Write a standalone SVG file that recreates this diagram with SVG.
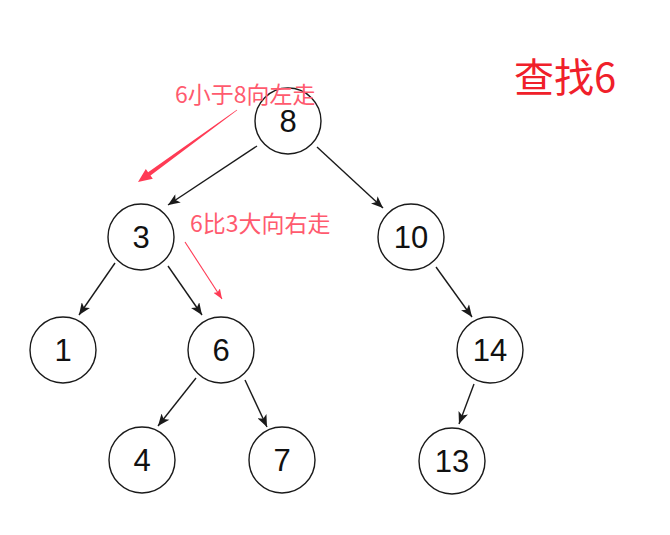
<svg xmlns="http://www.w3.org/2000/svg" width="670" height="535" viewBox="0 0 670 535">
<defs>
<style>
.node circle{fill:#fff;stroke:#1a1a1a;stroke-width:1.4}
.node text{font-family:"Liberation Sans",Arial,sans-serif;font-size:31px;fill:#111;text-anchor:middle}
.edge{stroke:#1a1a1a;stroke-width:1.4;fill:none;marker-end:url(#arr)}
.note{font-family:"Noto Sans CJK SC","Liberation Sans",sans-serif;font-size:23px;fill:#ff5a6e}
</style>
<marker id="arr" markerUnits="userSpaceOnUse" viewBox="0 0 12 10" refX="12" refY="5" markerWidth="13" markerHeight="10" orient="auto">
<path d="M0,0 L12,5 L0,10 L3,5 Z" fill="#1a1a1a"/>
</marker>
<marker id="rarr" markerUnits="userSpaceOnUse" viewBox="0 0 10 8" refX="10" refY="4" markerWidth="10" markerHeight="8" orient="auto">
<path d="M0,0 L10,4 L0,8 L2,4 Z" fill="#ff3b55"/>
</marker>
</defs>
<rect width="670" height="535" fill="#fff"/>
<g id="connectors">
<line class="edge" x1="257" y1="146" x2="168" y2="205"/>
<line class="edge" x1="317" y1="147" x2="383" y2="208"/>
<line class="edge" x1="115" y1="263" x2="79" y2="315"/>
<line class="edge" x1="168" y1="266" x2="202" y2="315"/>
<line class="edge" x1="196" y1="378" x2="158" y2="426"/>
<line class="edge" x1="245" y1="380" x2="267" y2="427"/>
<line class="edge" x1="436" y1="267" x2="472" y2="317"/>
<line class="edge" x1="474" y1="384" x2="459" y2="424"/>
</g>
<g id="n8" class="node"><circle cx="288" cy="121" r="33"/><text x="288" y="132">8</text></g>
<g id="n3" class="node"><circle cx="141" cy="237" r="33"/><text x="141" y="248">3</text></g>
<g id="n10" class="node"><circle cx="411" cy="237" r="33"/><text x="411" y="248">10</text></g>
<g id="n1" class="node"><circle cx="63" cy="350" r="33"/><text x="63" y="361">1</text></g>
<g id="n6" class="node"><circle cx="221" cy="350" r="33"/><text x="221" y="361">6</text></g>
<g id="n14" class="node"><circle cx="490" cy="350" r="33"/><text x="490" y="361">14</text></g>
<g id="n4" class="node"><circle cx="142" cy="460" r="33"/><text x="142" y="471">4</text></g>
<g id="n7" class="node"><circle cx="282" cy="460" r="33"/><text x="282" y="471">7</text></g>
<g id="n13" class="node"><circle cx="452" cy="461" r="33"/><text x="452" y="472">13</text></g>
<g id="annotations">
<path d="M237.2,110.3 L236.8,109.7 L148.1,172.2 L145.8,168.9 L138,182 L152.8,178.7 L150.5,175.4 Z" fill="#ff3b55"/>
<line x1="185" y1="242" x2="222" y2="299" stroke="#ff3b55" stroke-width="1.1" marker-end="url(#rarr)"/>
<text class="note" x="175" y="103">6小于8向左走</text>
<text class="note" x="190" y="232">6比3大向右走</text>
<text x="514" y="92" font-family="Noto Sans CJK SC,Liberation Sans,sans-serif" font-size="40" fill="#f0202a">查找6</text>
</g>
</svg>
